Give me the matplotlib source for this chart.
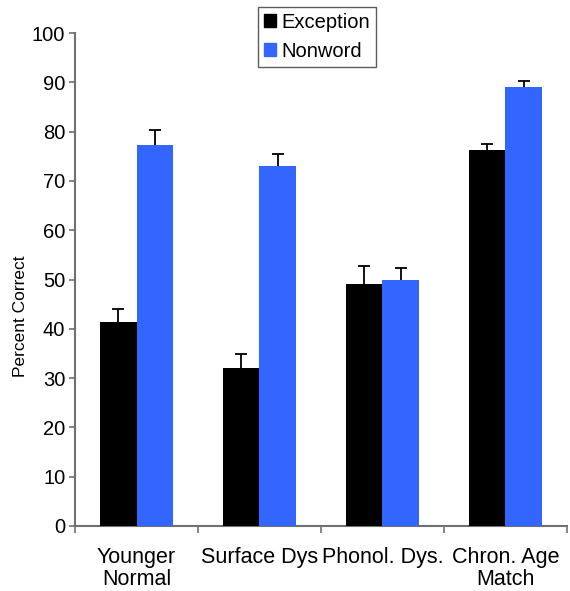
import numpy as np
import matplotlib.pyplot as plt
from matplotlib.patches import Patch

plt.rcParams['font.family'] = ['Liberation Sans', 'DejaVu Sans']

groups = ['Younger\nNormal', 'Surface Dys', 'Phonol. Dys.', 'Chron. Age\nMatch']
exception = [41.4, 32.1, 49.1, 76.3]
exception_err = [2.6, 2.8, 3.6, 1.3]
nonword = [77.3, 73.0, 49.9, 89.1]
nonword_err = [3.0, 2.4, 2.4, 1.1]

fig = plt.figure(figsize=(5.7, 5.91), dpi=100)
ax = fig.add_axes([0.1316, 0.110, 0.863, 0.834])

x = np.arange(len(groups))
w = 0.3
ax.bar(x - w / 2, exception, w, color='black', zorder=3)
ax.bar(x + w / 2, nonword, w, color='#3366ff', zorder=3)
# error bars sit behind the bars so only the upper half shows
ax.errorbar(x - w / 2, exception, yerr=exception_err, fmt='none', ecolor='black',
            elinewidth=1.3, capsize=4, capthick=1.3, zorder=2)
ax.errorbar(x + w / 2, nonword, yerr=nonword_err, fmt='none', ecolor='black',
            elinewidth=1.3, capsize=4, capthick=1.3, zorder=2)

ax.set_xlim(-0.5, len(groups) - 0.5)
ax.set_ylim(0, 100)
ax.set_yticks(range(0, 101, 10))
ax.tick_params(axis='y', labelsize=14.5, direction='out', length=4,
               color='#707070', width=1.2, pad=3)

# group boundary ticks, labels at group centres
ax.set_xticks(np.arange(-0.5, len(groups), 1))
ax.set_xticklabels([])
ax.set_xticks(x, minor=True)
ax.set_xticklabels(groups, minor=True, fontsize=15.5, linespacing=1.05)
ax.tick_params(axis='x', which='major', direction='out', length=5,
               color='#707070', width=1.2)
ax.tick_params(axis='x', which='minor', length=0, pad=15)

for side in ['top', 'right']:
    ax.spines[side].set_visible(False)
for side in ['left', 'bottom']:
    ax.spines[side].set_color('#707070')
    ax.spines[side].set_linewidth(1.5)

ax.set_ylabel('Percent Correct', fontsize=12.5)
ax.yaxis.set_label_coords(-0.095, 0.426)

handles = [Patch(color='black', label='Exception'),
           Patch(color='#3366ff', label='Nonword')]
fig.legend(handles=handles, loc='upper center', bbox_to_anchor=(0.556, 0.989),
           fontsize=14.5, frameon=True, fancybox=False, edgecolor='#333333',
           handlelength=0.6, handleheight=0.6, handletextpad=0.3,
           borderpad=0.3, labelspacing=0.5, borderaxespad=0)

fig.savefig('out.png', dpi=100)
